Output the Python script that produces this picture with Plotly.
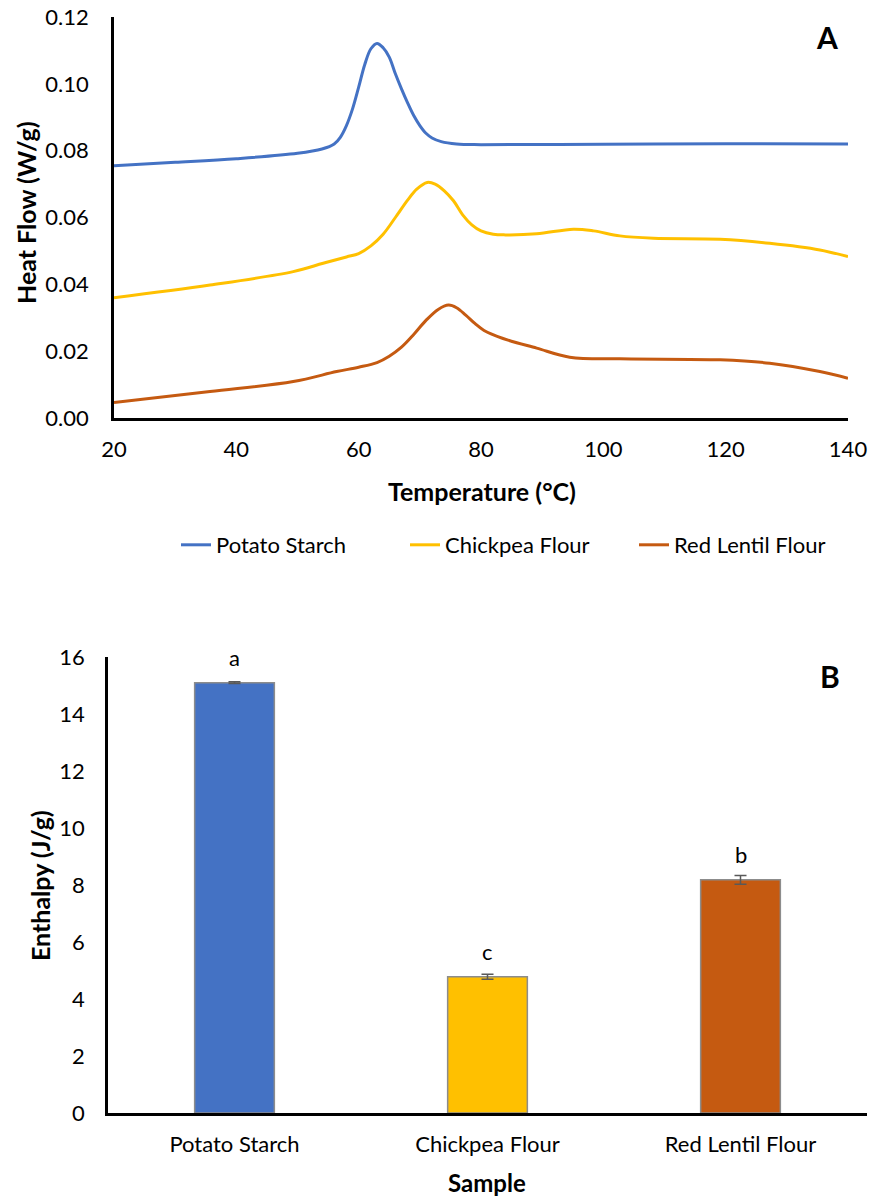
import plotly.graph_objects as go

W, H = 870, 1198

# ---- Panel A data (DSC curves) ----
potato_T = [20, 30, 40, 50, 54, 56, 57, 58, 59, 60, 61, 62, 63, 64, 65, 66, 67, 68, 69, 70, 71, 72,
            73.5, 76, 80, 100, 120, 140]
potato_hf = [0.0755, 0.0765, 0.0776, 0.0792, 0.0805, 0.0820, 0.0840, 0.0875, 0.0925, 0.0990, 0.1058,
             0.1105, 0.1121, 0.1108, 0.1080, 0.1030, 0.0985, 0.0943, 0.0905, 0.0875, 0.0852, 0.0838,
             0.0827, 0.0820, 0.0818, 0.0819, 0.0821, 0.0820]

chickpea_T = [20, 35.7, 49.3, 54.2, 58, 60, 62, 64, 66, 68, 69.5, 71.2, 72.5, 74, 75.5, 77, 78.5, 80,
              82, 84, 89.1, 95.1, 98.4, 102.7, 108.2, 119.1, 127.2, 135.4, 140]
chickpea_hf = [0.0360, 0.0398, 0.0438, 0.0463, 0.0482, 0.0492, 0.0515, 0.0550, 0.0600, 0.0652, 0.0685,
               0.0705, 0.0700, 0.0680, 0.0650, 0.0608, 0.0578, 0.0560, 0.0550, 0.0548, 0.0551, 0.0565,
               0.0560, 0.0545, 0.0538, 0.0535, 0.0523, 0.0503, 0.0483]

lentil_T = [20, 35.7, 49.3, 56.4, 60, 63, 65, 67, 69, 71, 73, 74.7, 76, 77.5, 79, 80.5, 83.6, 89.1,
            94.5, 102.7, 119.1, 127.2, 135.4, 140]
lentil_hf = [0.0046, 0.0079, 0.0109, 0.0139, 0.0152, 0.0166, 0.0185, 0.0212, 0.0250, 0.0292, 0.0325,
             0.0338, 0.0330, 0.0308, 0.0283, 0.0262, 0.0238, 0.0209, 0.0182, 0.0177, 0.0174, 0.0164,
             0.0139, 0.0119]

# ---- Panel B data (enthalpy) ----
samples = ["Potato Starch", "Chickpea Flour", "Red Lentil Flour"]
enthalpy = [15.1, 4.78, 8.18]
enthalpy_err = [0.03, 0.09, 0.15]
letters = ["a", "c", "b"]

colors = ["#4472C4", "#FFC000", "#C55A11"]
FONT = "Lato"

def px(x):
    return x / W

def py(y):
    return 1 - y / H

fig = go.Figure()

for name, T, hf, c in [("Potato Starch", potato_T, potato_hf, colors[0]),
                       ("Chickpea Flour", chickpea_T, chickpea_hf, colors[1]),
                       ("Red Lentil Flour", lentil_T, lentil_hf, colors[2])]:
    fig.add_trace(go.Scatter(x=T, y=hf, mode="lines", name=name,
                             line=dict(color=c, width=3, shape="spline", smoothing=1.0),
                             xaxis="x", yaxis="y"))

fig.add_trace(go.Bar(x=samples, y=enthalpy, marker=dict(color=colors, line=dict(color="#8C8C8C", width=1.5)),
                     error_y=dict(type="data", array=enthalpy_err, color="#595959", thickness=1.5, width=6),
                     width=0.315, showlegend=False, xaxis="x2", yaxis="y2"))

axis_common = dict(showgrid=False, zeroline=False, showline=True, linecolor="black", linewidth=2.5,
                   ticks="", automargin=False, tickfont=dict(family=FONT, size=22, color="#000"))

fig.update_layout(
    template="none",
    width=W, height=H, margin=dict(l=0, r=0, t=0, b=0, pad=0),
    plot_bgcolor="white", paper_bgcolor="white",
    font=dict(family=FONT, size=22, color="#000"),
    xaxis=dict(domain=[px(114), px(848)], range=[20, 140], dtick=20, anchor="y",
               ticklabelstandoff=10, **axis_common),
    yaxis=dict(domain=[py(418), py(17)], range=[0, 0.12], dtick=0.02, tickformat=".2f", anchor="x",
               ticklabelstandoff=18, **axis_common),
    xaxis2=dict(domain=[px(108), px(867)], range=[-0.5, 2.5], anchor="y2",
                ticklabelstandoff=10, **axis_common),
    yaxis2=dict(domain=[py(1113), py(657)], range=[0, 16], dtick=2, anchor="x2",
                ticklabelstandoff=16, **axis_common),
    legend=dict(orientation="h", x=px(176), xanchor="left", y=py(545), yanchor="middle",
                font=dict(family=FONT, size=22), entrywidth=184, entrywidthmode="pixels",
                bgcolor="rgba(0,0,0,0)", borderwidth=0),
    showlegend=True,
)

ann = []
def add(text, x, y, size, bold=False, angle=0):
    ann.append(dict(text=f"<b>{text}</b>" if bold else text, x=px(x), y=py(y), xref="paper", yref="paper",
                    showarrow=False, textangle=angle, xanchor="center", yanchor="middle",
                    font=dict(family=FONT, size=size, color="#000")))

add("Heat Flow (W/g)", 26, 213, 25, bold=True, angle=-90)
add("Temperature (°C)", 482, 491, 25, bold=True)
add("Enthalpy (J/g)", 40, 886, 25, bold=True, angle=-90)
add("Sample", 487, 1182, 24, bold=True)
add("A", 827, 37, 30, bold=True)
add("B", 830, 676, 30, bold=True)

for s, v, e, l in zip(samples, enthalpy, enthalpy_err, letters):
    ann.append(dict(text=l, x=s, y=v, xref="x2", yref="y2", showarrow=False, yshift=25,
                    yanchor="middle", font=dict(family=FONT, size=22, color="#000")))

fig.update_layout(annotations=ann)
fig.write_html("out.html")
